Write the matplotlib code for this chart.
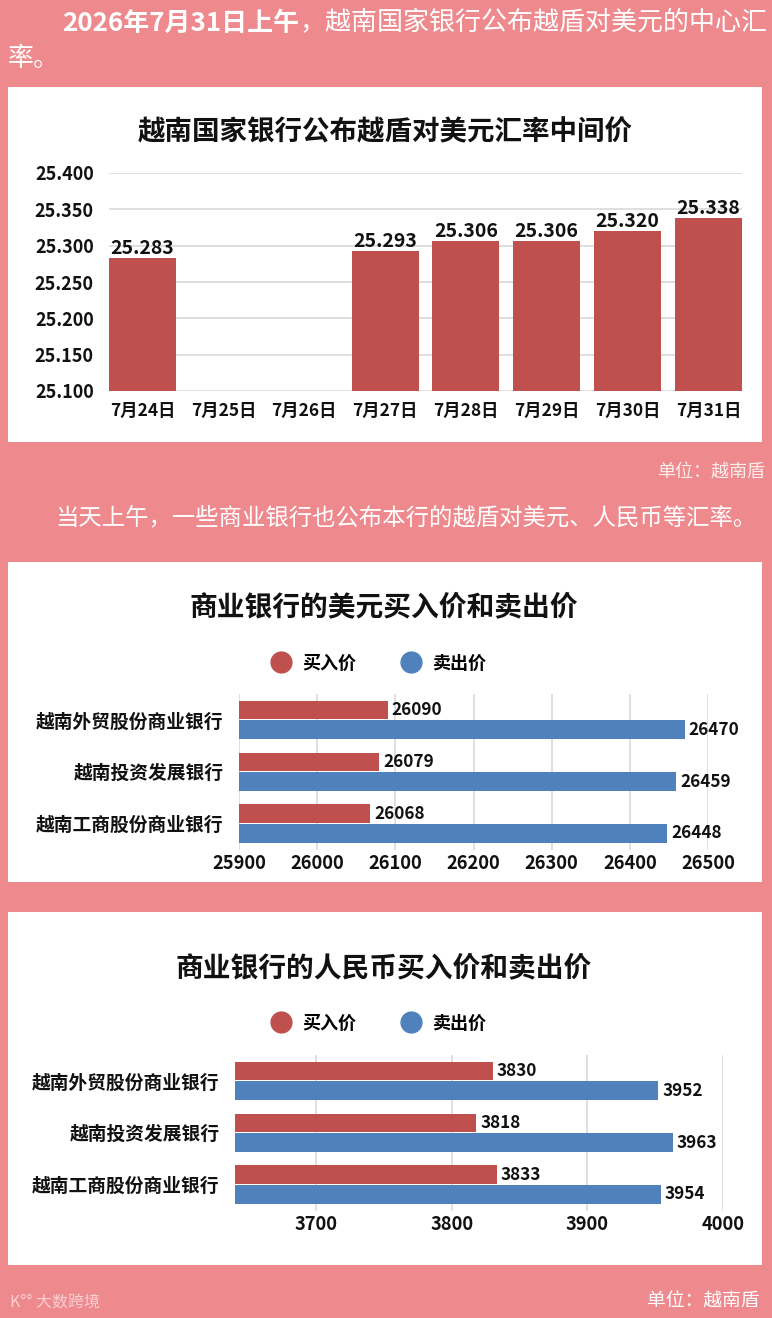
import numpy as np
import matplotlib.pyplot as plt
from matplotlib.patches import Rectangle
from matplotlib.lines import Line2D

plt.rcParams['font.family'] = ['Noto Sans CJK SC', 'DejaVu Sans']

# 越南国家银行中间价
dates = ["7月24日", "7月25日", "7月26日", "7月27日", "7月28日", "7月29日", "7月30日", "7月31日"]
central_rate = [25.283, np.nan, np.nan, 25.293, 25.306, 25.306, 25.320, 25.338]
rate_ticks = [25.100, 25.150, 25.200, 25.250, 25.300, 25.350, 25.400]

# 商业银行报价
banks = ["越南外贸股份商业银行", "越南投资发展银行", "越南工商股份商业银行"]
usd_buy = [26090, 26079, 26068]
usd_sell = [26470, 26459, 26448]
usd_ticks = [25900, 26000, 26100, 26200, 26300, 26400, 26500]
cny_buy = [3830, 3818, 3833]
cny_sell = [3952, 3963, 3954]
cny_ticks = [3700, 3800, 3900, 4000]
cny_xmin = 3640

PINK = "#EE8A8E"
RED = "#C0504D"
BLUE = "#4F81BD"
GRID = "#D9D9D9"
INK = "#111111"

W, H = 772, 1318


def box(l, t, r, b):
    return [l / W, 1 - b / H, (r - l) / W, (b - t) / H]


def fy(y):
    return 1 - y / H


fig = plt.figure(figsize=(W / 100, H / 100), dpi=100, facecolor=PINK)
bg = fig.add_axes([0, 0, 1, 1], zorder=-10)
bg.set_xlim(0, 1)
bg.set_ylim(0, 1)
bg.axis("off")

# white panels
for l, t, r, b in [(8, 87, 762, 442), (8, 562, 762, 882), (8, 912, 762, 1265)]:
    x0, y0, w, h = box(l, t, r, b)
    bg.add_patch(Rectangle((x0, y0), w, h, facecolor="white", edgecolor="none"))

# top paragraph
t1 = bg.text(62 / W, fy(23), "2026年7月31日上午", color="white", fontsize=18.7,
             fontweight="bold", va="center", ha="left")
bg.annotate("，越南国家银行公布越盾对美元的中心汇", xy=(1, 0.5), xycoords=t1,
            color="white", fontsize=18.7, va="center", ha="left")
bg.text(8 / W, fy(58), "率。", color="white", fontsize=18.7, va="center", ha="left")

bg.text(765 / W, fy(472), "单位：越南盾", color="white", alpha=0.85, fontsize=13,
        va="center", ha="right")
bg.text(55 / W, fy(518), "当天上午，一些商业银行也公布本行的越盾对美元、人民币等汇率。",
        color="white", fontsize=16.8, va="center", ha="left")
bg.text(760 / W, fy(1301), "单位：越南盾", color="white", fontsize=13.5,
        va="center", ha="right")
bg.text(10 / W, fy(1302), "K°° 大数跨境", color="white", alpha=0.6, fontsize=11.5,
        va="center", ha="left")

# titles
bg.text(385 / W, fy(132), "越南国家银行公布越盾对美元汇率中间价", color=INK,
        fontsize=19.8, fontweight="bold", ha="center", va="center")
bg.text(384 / W, fy(607), "商业银行的美元买入价和卖出价", color=INK,
        fontsize=20, fontweight="bold", ha="center", va="center")
bg.text(384 / W, fy(968), "商业银行的人民币买入价和卖出价", color=INK,
        fontsize=20, fontweight="bold", ha="center", va="center")

# chart 1: central rate
ax1 = fig.add_axes(box(109, 173, 742, 391))
x = np.arange(len(dates))
ax1.bar(x, central_rate, width=0.83, color=RED, zorder=2)
for xi, v in zip(x, central_rate):
    if np.isnan(v):
        continue
    ax1.annotate(f"{v:.3f}", xy=(xi, v), xytext=(0, 3), textcoords="offset points",
                 ha="center", va="baseline", fontsize=14, fontweight="bold",
                 color=INK, annotation_clip=False)
ax1.set_xlim(-0.415, len(dates) - 1 + 0.415)
ax1.set_ylim(rate_ticks[0], rate_ticks[-1])
ax1.set_yticks(rate_ticks, [f"{t:.3f}" for t in rate_ticks])
ax1.set_xticks(x, dates)
ax1.yaxis.grid(True, color=GRID, lw=1.2, zorder=0)
ax1.set_axisbelow(True)
for s in ax1.spines.values():
    s.set_visible(False)
ax1.tick_params(axis="y", length=0, pad=11, labelsize=13, labelcolor=INK)
ax1.tick_params(axis="x", length=0, pad=8, labelsize=12.5, labelcolor=INK)
for lab in ax1.get_xticklabels() + ax1.get_yticklabels():
    lab.set_fontweight("bold")
ax1.patch.set_alpha(0)


def price_panel(rect, buy, sell, ticks, xmin, legend_y):
    ax = fig.add_axes(rect)
    y = np.arange(len(banks))
    ax.barh(y - 0.19, buy, height=0.36, color=RED, zorder=2)
    ax.barh(y + 0.19, sell, height=0.36, color=BLUE, zorder=2)
    for yi, v in zip(y, buy):
        ax.annotate(str(v), xy=(v, yi - 0.19), xytext=(3, 0), textcoords="offset points",
                    ha="left", va="center", fontsize=12.4, fontweight="bold", color=INK)
    for yi, v in zip(y, sell):
        ax.annotate(str(v), xy=(v, yi + 0.19), xytext=(3, 0), textcoords="offset points",
                    ha="left", va="center", fontsize=12.4, fontweight="bold", color=INK)
    ax.set_xlim(xmin, ticks[-1])
    ax.set_ylim(len(banks) - 0.5, -0.5)
    ax.set_yticks(y, banks)
    ax.set_xticks(ticks, [str(t) for t in ticks])
    ax.xaxis.grid(True, color=GRID, lw=1.2, zorder=0)
    ax.set_axisbelow(True)
    for s in ax.spines.values():
        s.set_visible(False)
    ax.tick_params(axis="y", length=0, pad=11, labelsize=13.5, labelcolor=INK)
    ax.tick_params(axis="x", length=0, pad=3, labelsize=13.2, labelcolor=INK)
    for lab in ax.get_xticklabels() + ax.get_yticklabels():
        lab.set_fontweight("bold")
    ax.patch.set_alpha(0)

    handles = [Line2D([], [], ls="", marker="o", ms=15, color=RED),
               Line2D([], [], ls="", marker="o", ms=15, color=BLUE)]
    fig.legend(handles, ["买入价", "卖出价"], loc="center",
               bbox_to_anchor=(379 / W, fy(legend_y)), ncol=2, frameon=False,
               prop={"weight": "bold", "size": 13}, columnspacing=2.5,
               handletextpad=0.7, handlelength=1.0)
    return ax


price_panel(box(239, 694, 708, 849.5), usd_buy, usd_sell, usd_ticks, usd_ticks[0], 663)
price_panel(box(235, 1055, 723, 1210.5), cny_buy, cny_sell, cny_ticks, cny_xmin, 1023)

fig.savefig("out.png", dpi=100, facecolor=fig.get_facecolor())
